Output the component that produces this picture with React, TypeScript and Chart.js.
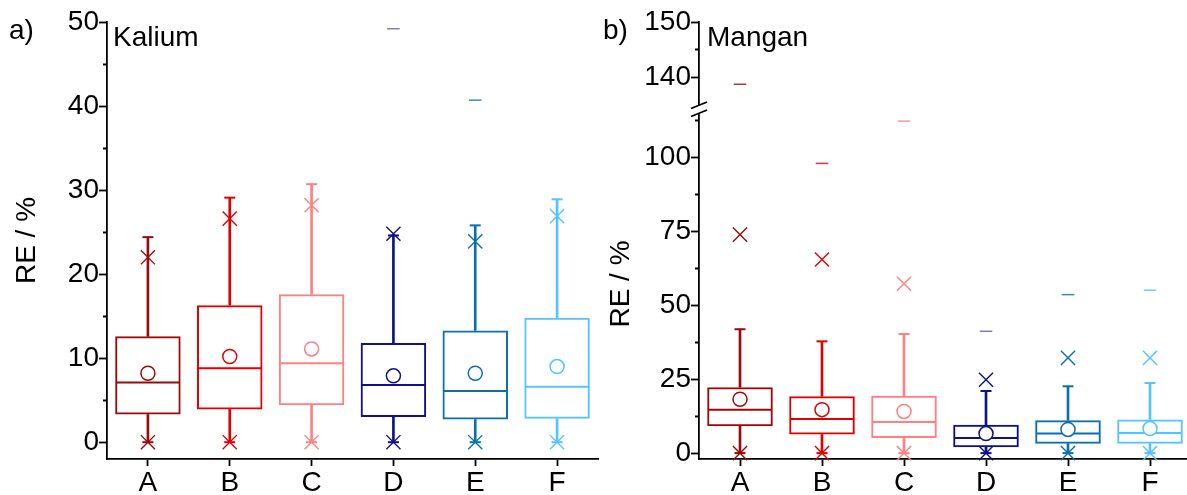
import React, { useEffect, useRef } from 'react';
import { Chart, registerables } from 'chart.js';
Chart.register(...registerables);

const categories = ['A', 'B', 'C', 'D', 'E', 'F'];
const boxColors = ['#9a0a0a', '#e00000', '#ff8080', '#10108a', '#0a6fb0', '#55c3ff'];
const outlierColors = ['rgba(154,10,10,0.8)', 'rgba(224,0,0,0.8)', 'rgba(255,128,128,0.8)', 'rgba(16,16,138,0.55)', 'rgba(10,111,176,0.8)', 'rgba(85,195,255,0.85)'];

// a) Kalium
const kQ1 = [3.3, 3.9, 4.4, 3.0, 2.7, 2.8];
const kMedian = [7.1, 8.8, 9.4, 6.8, 6.1, 6.6];
const kQ3 = [12.6, 16.3, 17.6, 11.8, 13.3, 14.8];
const kMean = [8.2, 10.2, 11.1, 7.9, 8.2, 9.0];
const kWhiskLow = [0, 0, 0, 0, 0, 0];
const kWhiskHigh = [24.4, 29.1, 30.7, 24.6, 25.8, 28.9];
const kP1 = [0, 0, 0, 0, 0, 0];
const kP99 = [22.0, 26.6, 28.2, 24.8, 23.9, 26.9];
const kMax = [null, null, null, 49.2, 40.7, null];
const kTickValues = [0, 5, 10, 15, 20, 25, 30, 35, 40, 45, 50];
const kTickLabels = [0, 10, 20, 30, 40, 50];

// b) Mangan
const mQ1 = [9.1, 6.3, 5.1, 2.0, 3.2, 3.2];
const mMedian = [14.7, 11.5, 10.5, 5.1, 6.6, 6.8];
const mQ3 = [22.3, 19.2, 19.4, 9.6, 11.1, 11.4];
const mMean = [18.2, 14.7, 14.1, 6.6, 8.0, 8.3];
const mWhiskLow = [0, 0, 0, 0, 0, 0];
const mWhiskHigh = [41.9, 37.8, 40.3, 21.0, 22.6, 23.7];
const mP1 = [0, 0, 0, 0, 0, 0];
const mP99 = [73.9, 65.5, 57.3, 24.8, 32.2, 32.2];
const mMax = [138.8, 98.0, 112.3, 41.2, 53.6, 55.1];
const mTickValuesLow = [0, 12.5, 25, 37.5, 50, 62.5, 75, 87.5, 100, 112.5];
const mTickLabelsLow = [0, 25, 50, 75, 100];
const mTickValuesHigh = [140, 145, 150];
const mTickLabelsHigh = [140, 150];
const mBreakLow = 116.4;
const mBreakHigh = 134.35;

const FONT = "'Liberation Sans', Arial, sans-serif";
const FSIZE = 28;
const AXW = 1.8;

function floating(lo: number[], hi: number[]) {
  return lo.map((v, i) => [v, hi[i]]);
}

function pointSet(data: (number | null)[], style: string, radius: number, width: number, colors: string[], yAxisID: string, order: number, fill = 'rgba(0,0,0,0)') {
  return {
    type: 'line',
    data,
    showLine: false,
    pointStyle: style,
    pointRadius: radius,
    pointHoverRadius: radius,
    pointBorderWidth: width,
    pointBorderColor: colors,
    pointBackgroundColor: fill,
    borderColor: colors,
    backgroundColor: fill,
    yAxisID,
    order,
    clip: false,
  };
}

function boxDatasets(q1: number[], med: number[], q3: number[], mean: number[], wl: number[], wh: number[], p1: number[], p99: number[], yAxisID: string) {
  return [
    {
      type: 'bar', data: floating(q1, q3), backgroundColor: 'rgba(0,0,0,0)', borderColor: boxColors,
      borderWidth: 2, borderSkipped: false, grouped: false, barPercentage: 0.8, categoryPercentage: 1, yAxisID, order: 6,
    },
    { type: 'bar', data: floating(q3, wh), backgroundColor: boxColors, borderWidth: 0, barThickness: 2, grouped: false, yAxisID, order: 7 },
    { type: 'bar', data: floating(wl, q1), backgroundColor: boxColors, borderWidth: 0, barThickness: 2, grouped: false, yAxisID, order: 7 },
    pointSet(med, 'line', 32, 2, boxColors, yAxisID, 5),
    pointSet(wh, 'line', 5.5, 2, boxColors, yAxisID, 5),
    pointSet(wl, 'line', 5.5, 2, boxColors, yAxisID, 5),
    pointSet(p99, 'crossRot', 10, 1.4, boxColors, yAxisID, 3),
    pointSet(p1, 'crossRot', 10, 1.4, boxColors, yAxisID, 3),
    pointSet(mean, 'circle', 7, 1.5, boxColors, yAxisID, 1, '#ffffff'),
  ];
}

const tickFont = { family: FONT, size: FSIZE };

function xScale() {
  return {
    type: 'category',
    labels: categories,
    offset: true,
    grid: { display: true, drawOnChartArea: false, offset: false, tickLength: 7, tickWidth: AXW, tickColor: '#000' },
    border: { display: true, color: '#000', width: AXW },
    ticks: { font: tickFont, color: '#000', padding: 0, maxRotation: 0, autoSkip: false },
    afterFit: (s: any) => { s.height = 36; },
  };
}

function yScale(min: number, max: number, tickValues: number[], labels: number[], width: number, title: boolean, titlePad: number, extra: any = {}) {
  return {
    type: 'linear',
    position: 'left',
    min,
    max,
    afterBuildTicks: (s: any) => { s.ticks = tickValues.map((v) => ({ value: v })); },
    ticks: {
      font: tickFont, color: '#000', padding: 0, autoSkip: false,
      callback: (v: any) => (labels.includes(Number(v)) ? String(v) : ''),
    },
    grid: {
      display: true, drawOnChartArea: false, tickLength: 8, tickWidth: AXW, tickColor: '#000',
      tickBorderDash: (ctx: any) => (ctx.tick && !labels.includes(ctx.tick.value) ? [0, 4, 4, 100] : []),
    },
    border: { display: true, color: '#000', width: AXW },
    title: { display: title, text: 'RE / %', font: { family: FONT, size: FSIZE }, color: '#000', padding: { top: titlePad, bottom: 0 } },
    afterFit: (s: any) => { s.width = width; },
    ...extra,
  };
}

const breakPlugin = {
  id: 'axisBreak',
  afterDraw(chart: any) {
    const top = chart.scales.yTop;
    if (!top) return;
    const ctx = chart.ctx;
    const x = chart.chartArea.left;
    const yb = top.bottom;
    ctx.save();
    ctx.fillStyle = '#ffffff';
    ctx.fillRect(x - 3, yb - 4, 6, 8);
    ctx.strokeStyle = '#000';
    ctx.lineWidth = AXW;
    ctx.beginPath();
    ctx.moveTo(x - 8, yb - 0.5);
    ctx.lineTo(x + 8, yb - 7);
    ctx.moveTo(x - 8, yb + 7.5);
    ctx.lineTo(x + 8, yb + 1);
    ctx.stroke();
    ctx.restore();
  },
};

const commonOptions = (padRight: number) => ({
  responsive: false,
  animation: false,
  events: [],
  layout: { autoPadding: false, padding: { top: 22, right: padRight, bottom: 0, left: 0 } },
  plugins: { legend: { display: false }, tooltip: { enabled: false } },
});

function makeKalium(canvas: HTMLCanvasElement) {
  return new Chart(canvas, {
    type: 'bar',
    data: {
      labels: categories,
      datasets: [
        ...boxDatasets(kQ1, kMedian, kQ3, kMean, kWhiskLow, kWhiskHigh, kP1, kP99, 'y'),
        pointSet(kMax, 'line', 6.3, 1.5, outlierColors, 'y', 2),
      ] as any,
    },
    options: {
      ...commonOptions(2),
      scales: {
        x: xScale(),
        y: yScale(-2, 50, kTickValues, kTickLabels, 107, true, 10),
      } as any,
    } as any,
  });
}

function makeMangan(canvas: HTMLCanvasElement) {
  const lowMax = mMax.map((v) => (v < mBreakLow ? v : null));
  const highMax = mMax.map((v) => (v > mBreakHigh ? v : null));
  return new Chart(canvas, {
    type: 'bar',
    data: {
      labels: categories,
      datasets: [
        ...boxDatasets(mQ1, mMedian, mQ3, mMean, mWhiskLow, mWhiskHigh, mP1, mP99, 'y'),
        pointSet(lowMax, 'line', 6.3, 1.5, outlierColors, 'y', 2),
        pointSet(highMax, 'line', 6.3, 1.5, outlierColors, 'yTop', 2),
      ] as any,
    },
    options: {
      ...commonOptions(0),
      scales: {
        x: xScale(),
        y: yScale(-2, mBreakLow, mTickValuesLow, mTickLabelsLow, 99, true, 4, { stack: 'mn', stackWeight: 350 }),
        yTop: yScale(mBreakHigh, 150, mTickValuesHigh, mTickLabelsHigh, 99, false, 0, { stack: 'mn', stackWeight: 87 }),
      } as any,
    } as any,
    plugins: [breakPlugin],
  });
}

const labelStyle: React.CSSProperties = {
  position: 'absolute', fontFamily: FONT, fontSize: FSIZE, lineHeight: 1, color: '#000', whiteSpace: 'nowrap',
};

export default function App() {
  const refA = useRef<HTMLCanvasElement>(null);
  const refB = useRef<HTMLCanvasElement>(null);
  useEffect(() => {
    const a = makeKalium(refA.current!);
    const b = makeMangan(refB.current!);
    return () => { a.destroy(); b.destroy(); };
  }, []);
  return (
    <div style={{ position: 'fixed', left: 0, top: 0, width: 1187, height: 495, overflow: 'hidden', background: '#fff' }}>
      <canvas ref={refA} width={600} height={495} style={{ position: 'absolute', left: 0, top: 0, width: 600, height: 495 }} />
      <canvas ref={refB} width={591} height={495} style={{ position: 'absolute', left: 600, top: 0, width: 591, height: 495 }} />
      <div style={{ ...labelStyle, left: 9, top: 16 }}>a)</div>
      <div style={{ ...labelStyle, left: 113, top: 23 }}>Kalium</div>
      <div style={{ ...labelStyle, left: 603, top: 16 }}>b)</div>
      <div style={{ ...labelStyle, left: 707, top: 23 }}>Mangan</div>
    </div>
  );
}
